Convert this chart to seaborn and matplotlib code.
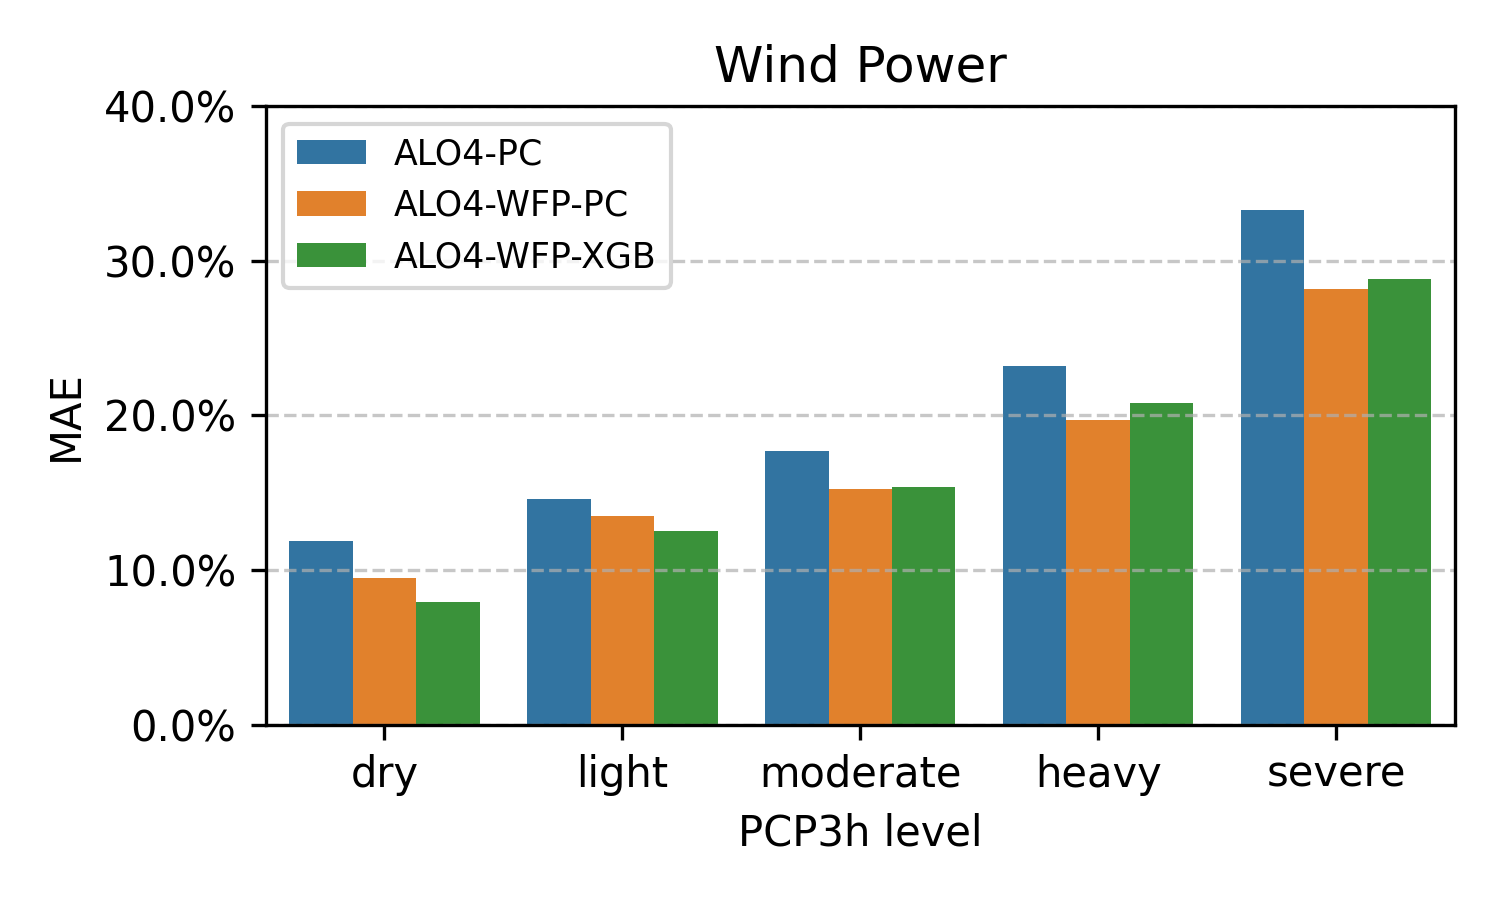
import matplotlib
matplotlib.use("Agg")
import matplotlib.pyplot as plt
import matplotlib.ticker as mtick
import seaborn as sns
import pandas as pd

levels = ["dry", "light", "moderate", "heavy", "severe"]
models = ["ALO4-PC", "ALO4-WFP-PC", "ALO4-WFP-XGB"]
mae_pc = [0.1184, 0.1462, 0.1770, 0.2318, 0.3328]
mae_wfp_pc = [0.0950, 0.1352, 0.1521, 0.1968, 0.2818]
mae_wfp_xgb = [0.0794, 0.1255, 0.1534, 0.2078, 0.2880]

df = pd.DataFrame({
    "PCP3h level": levels * 3,
    "model": [models[0]] * 5 + [models[1]] * 5 + [models[2]] * 5,
    "MAE": mae_pc + mae_wfp_pc + mae_wfp_xgb,
})

fig, ax = plt.subplots(figsize=(5, 3), dpi=300)
sns.barplot(data=df, x="PCP3h level", y="MAE", hue="model", ax=ax)

ax.set_ylim(0, 0.4)
ax.set_yticks([0, 0.1, 0.2, 0.3, 0.4])
ax.yaxis.set_major_formatter(mtick.PercentFormatter(1.0, decimals=1))
ax.grid(axis="y", linestyle="--", alpha=0.7)
ax.set_title("Wind Power")
ax.legend(loc="upper left", fontsize="small")

plt.subplots_adjust(left=0.177, right=0.97, top=0.882, bottom=0.195)
plt.savefig("out.png", dpi=300)
